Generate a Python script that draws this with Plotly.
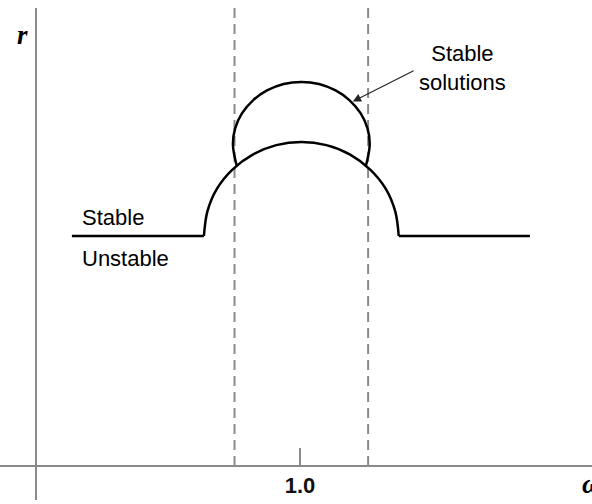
import plotly.graph_objects as go

# Response curve r(omega): flat branch, large resonance arc, and upper stable arc
flat_left_w = [0.136, 0.636]
flat_right_w = [1.374, 1.871]
flat_r = [1.0, 1.0]

big_arc_w = [0.636, 0.649, 0.685, 0.744, 0.821, 0.910, 1.005,
             1.100, 1.190, 1.266, 1.325, 1.361, 1.374]
big_arc_r = [1.000, 1.106, 1.205, 1.289, 1.354, 1.395, 1.409,
             1.395, 1.354, 1.289, 1.205, 1.106, 1.000]

small_arc_w = [0.761, 0.746, 0.754, 0.780, 0.822, 0.875, 0.938, 1.005,
               1.072, 1.135, 1.188, 1.230, 1.256, 1.264, 1.249]
small_arc_r = [1.302, 1.396, 1.467, 1.533, 1.590, 1.633, 1.661, 1.670,
               1.661, 1.633, 1.590, 1.533, 1.467, 1.396, 1.302]

# Boundaries of the region with multiple solutions
bound_w = [0.752, 1.258]
tick_vals = [1.0]
tick_text = ["1.0"]

W_RANGE = [-0.1364, 2.1061]
R_RANGE = [-0.1478, 1.9913]

CURVE = dict(color="black", width=2.5)
GRAY = "#8a8a8a"

fig = go.Figure()

for w in bound_w:
    fig.add_trace(go.Scatter(x=[w, w], y=[0, R_RANGE[1]], mode="lines",
                             line=dict(color=GRAY, width=2, dash="10px,6px"),
                             hoverinfo="skip"))

fig.add_trace(go.Scatter(x=flat_left_w, y=flat_r, mode="lines", line=CURVE))
fig.add_trace(go.Scatter(x=flat_right_w, y=flat_r, mode="lines", line=CURVE))
fig.add_trace(go.Scatter(x=big_arc_w, y=big_arc_r, mode="lines",
                         line=dict(CURVE, shape="spline", smoothing=1.0)))
fig.add_trace(go.Scatter(x=small_arc_w, y=small_arc_r, mode="lines",
                         line=dict(CURVE, shape="spline", smoothing=1.0)))

sans = "Liberation Sans, Arial, sans-serif"
serif = "Liberation Serif, Times New Roman, serif"

annotations = [
    dict(x=0.167, y=1.08, text="Stable", xanchor="left", yanchor="middle",
         showarrow=False, font=dict(family=sans, size=22, color="black")),
    dict(x=0.167, y=0.902, text="Unstable", xanchor="left", yanchor="middle",
         showarrow=False, font=dict(family=sans, size=22, color="black")),
    dict(x=1.614, y=1.730, text="Stable<br>solutions", xanchor="center",
         yanchor="middle", align="center", showarrow=False,
         font=dict(family=sans, size=22, color="black")),
    dict(x=1.200, y=1.585, ax=1.436, ay=1.722, axref="x", ayref="y",
         text="", showarrow=True, arrowhead=2, arrowsize=1.5,
         arrowwidth=1.1, arrowcolor="#222"),
    dict(x=-0.050, y=1.874, text="<i><b>r</b></i>", xanchor="center",
         yanchor="middle", showarrow=False,
         font=dict(family=serif, size=27, color="black")),
    dict(x=2.061, y=-0.078, text="<i><b>ω</b></i>", xanchor="left",
         yanchor="middle", showarrow=False,
         font=dict(family=serif, size=27, color="black")),
]

fig.update_layout(
    width=592, height=504,
    margin=dict(l=0, r=0, t=8, b=4),
    paper_bgcolor="white", plot_bgcolor="white",
    showlegend=False,
    annotations=annotations,
    xaxis=dict(range=W_RANGE, anchor="free", position=(500 - 466) / 492,
               showline=True, linecolor=GRAY, linewidth=2,
               showgrid=False, zeroline=False,
               tickmode="array", tickvals=tick_vals, ticktext=tick_text,
               ticks="inside", ticklen=17, tickwidth=1.5, tickcolor=GRAY,
               tickfont=dict(family=sans, size=22, color="#111", weight="bold")),
    yaxis=dict(range=R_RANGE, anchor="free", position=36 / 592,
               showline=True, linecolor=GRAY, linewidth=2,
               showgrid=False, zeroline=False, showticklabels=False,
               ticks=""),
)

fig.write_html("out.html")
